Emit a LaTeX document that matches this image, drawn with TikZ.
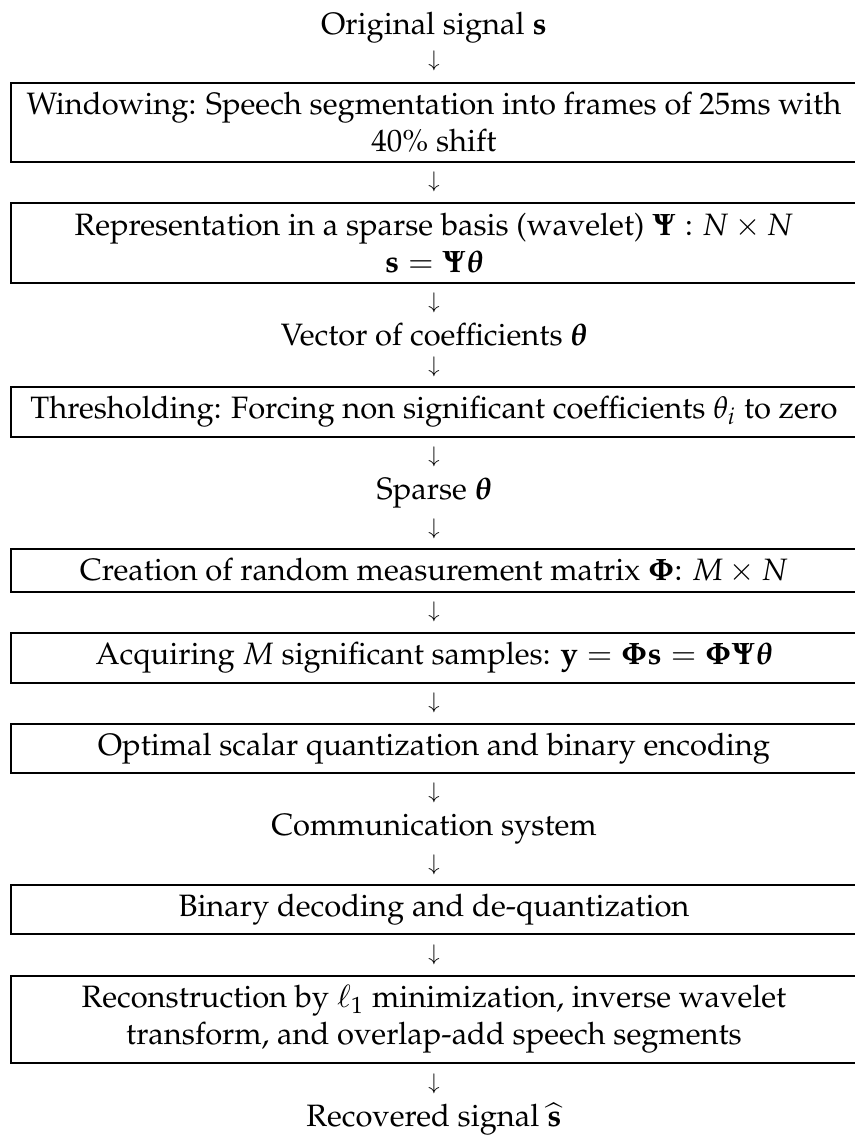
\documentclass[tikz,border=0pt]{standalone}
\usepackage[T1]{fontenc}
\usepackage{amsmath,amssymb}
\usepackage{mathpazo}
\begin{document}
\begin{tikzpicture}[x=0.3236pt,y=-0.3236pt,
  stagebox/.style={draw, line width=0.45pt, inner sep=0pt,
    minimum width=846*0.3236pt, minimum height=#1*0.3236pt,
    align=center},
  plaintext/.style={inner sep=0pt},
  flowmark/.style={inner sep=0pt, font=\scriptsize}]
\useasboundingbox (0,0) rectangle (855,1135);

% signal chain, top to bottom
\node[plaintext, anchor=base] (orig) at (434,34) {Original signal $\mathbf{s}$};
\node[flowmark] (a1) at (434,61) {$\downarrow$};
\node[stagebox=79] (win) at (434,122.5)
  {Windowing: Speech segmentation into frames of 25ms with\\ 40\% shift};
\node[flowmark] (a2) at (434,182) {$\downarrow$};
\node[stagebox=80] (rep) at (434,243)
  {Representation in a sparse basis (wavelet) $\mathbf{\Psi}:N\times N$\\
   $\mathbf{s}=\mathbf{\Psi}\boldsymbol{\theta}$};
\node[flowmark] (a3) at (434,303) {$\downarrow$};
\node[plaintext] (coef) at (434,335) {Vector of coefficients $\boldsymbol{\theta}$};
\node[flowmark] (a4) at (434,367) {$\downarrow$};
\node[stagebox=50] (thr) at (434,412)
  {Thresholding: Forcing non significant coefficients $\theta_i$ to zero};
\node[flowmark] (a5) at (434,457) {$\downarrow$};
\node[plaintext] (sparse) at (434,493) {Sparse $\boldsymbol{\theta}$};
\node[flowmark] (a6) at (434,529) {$\downarrow$};
\node[stagebox=43] (mat) at (434,570.5)
  {Creation of random measurement matrix $\mathbf{\Phi}$: $M\times N$};
\node[flowmark] (a7) at (434,612) {$\downarrow$};
\node[stagebox=50] (acq) at (434,658)
  {Acquiring $M$ significant samples: $\mathbf{y}=\mathbf{\Phi}\mathbf{s}=\mathbf{\Phi}\mathbf{\Psi}\boldsymbol{\theta}$};
\node[flowmark] (a8) at (434,703) {$\downarrow$};
\node[stagebox=49] (enc) at (434,748.5)
  {Optimal scalar quantization and binary encoding};
\node[flowmark] (a9) at (434,793) {$\downarrow$};
\node[plaintext] (comm) at (434,829) {Communication system};
\node[flowmark] (a10) at (434,865) {$\downarrow$};
\node[stagebox=49] (dec) at (434,909.5)
  {Binary decoding and de-quantization};
\node[flowmark] (a11) at (434,955) {$\downarrow$};
\node[stagebox=87] (rec) at (434,1019.5)
  {Reconstruction by $\ell_1$ minimization, inverse wavelet\\
   transform, and overlap-add speech segments};
\node[flowmark] (a12) at (434,1084) {$\downarrow$};
\node[plaintext, anchor=base] (out) at (434,1126) {Recovered signal $\widehat{\mathbf{s}}$};
\end{tikzpicture}
\end{document}
